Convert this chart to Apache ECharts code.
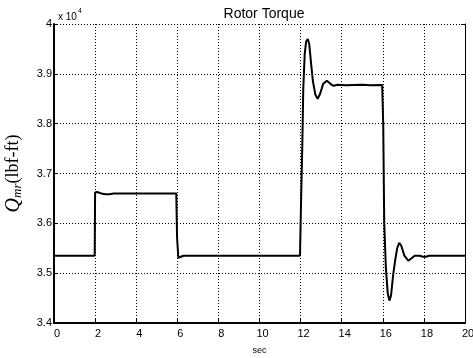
<!DOCTYPE html>
<html>
<head>
<meta charset="utf-8">
<script src="https://cdn.jsdelivr.net/npm/echarts@6/dist/echarts.min.js"></script>
<style>
html,body{margin:0;padding:0;background:#fff;}
#chart{width:473px;height:358px;}
</style>
</head>
<body>
<div id="chart"></div>
<script>
// Time (sec)
var timeSec = [0, 1.98, 2.0, 2.1, 2.3, 2.5, 2.7, 2.9, 4.0, 5.0, 5.95, 5.99, 6.05, 6.13, 6.3, 8.0, 10.0, 11.97,
  12.03, 12.08, 12.13, 12.2, 12.27, 12.35, 12.42, 12.5, 12.6, 12.72, 12.83, 12.95, 13.1, 13.28, 13.45, 13.6, 13.8,
  14.2, 14.6, 15.0, 15.4, 15.97, 16.02, 16.07, 16.15, 16.24, 16.32, 16.4, 16.5, 16.6, 16.7, 16.8, 16.9, 17.05,
  17.24, 17.4, 17.55, 17.8, 17.95, 18.1, 18.25, 19.0, 20.0];
// Rotor torque Q_mr (lbf-ft)
var torque = [35350, 35350, 36620, 36630, 36600, 36585, 36585, 36600, 36600, 36600, 36600, 35700, 35310, 35285, 35350, 35350, 35350, 35350,
  36600, 37500, 38700, 39400, 39650, 39700, 39600, 39250, 38850, 38580, 38500, 38600, 38800, 38860, 38800, 38760, 38780,
  38770, 38775, 38780, 38770, 38775, 38000, 36000, 35100, 34600, 34450, 34550, 34950, 35250, 35500, 35610, 35550, 35350,
  35250, 35300, 35350, 35350, 35330, 35330, 35350, 35350, 35350];
// Axis ticks
var xTicks = [0, 2, 4, 6, 8, 10, 12, 14, 16, 18, 20];
var yTickLabels = ['3.4', '3.5', '3.6', '3.7', '3.8', '3.9', '4'];

var points = timeSec.map(function (t, i) { return [t, torque[i]]; });

var chart = echarts.init(document.getElementById('chart'), null, {renderer: 'canvas'});
var font = 'Liberation Sans, Arial, sans-serif';
var dotted = {color: '#000', width: 1, type: [1, 2]};
chart.setOption({
  animation: false,
  backgroundColor: '#fff',
  title: {
    text: 'Rotor Torque',
    left: 259, textAlign: 'center', top: 2,
    textStyle: {fontFamily: font, fontSize: 14, fontWeight: 'normal', color: '#000'}
  },
  graphic: [{
    type: 'text', left: 58, top: 8,
    style: {
      text: '{a|x 10}{b|4}',
      rich: {
        a: {fontFamily: font, fontSize: 10, fill: '#000', padding: [4, 0, 0, 0]},
        b: {fontFamily: font, fontSize: 7, fill: '#000', verticalAlign: 'top', padding: [0, 0, 6, 1]}
      }
    }
  }],
  grid: {left: 54, right: 8, top: 24, bottom: 35, containLabel: false, outerBoundsMode: 'none'},
  xAxis: [{
    type: 'value', min: 0, max: 20, interval: 2,
    name: 'sec', nameLocation: 'middle', nameGap: 23,
    nameTextStyle: {fontFamily: font, fontSize: 9, color: '#000'},
    axisLine: {show: true, onZero: false, lineStyle: {color: '#000', width: 2}},
    axisTick: {show: true, inside: true, length: 4, lineStyle: {color: '#000'}},
    axisLabel: {fontFamily: font, fontSize: 11, color: '#000', margin: 5, padding: [0, 0, 0, 6],
      formatter: function (v) { return xTicks.indexOf(v) >= 0 ? String(v) : ''; }},
    splitLine: {show: true, lineStyle: dotted}
  }],
  yAxis: [{
    type: 'value', min: 34000, max: 40000, interval: 1000,
    name: '{q|Q}{s|mr}{n|(lbf-ft)}', nameLocation: 'middle', nameGap: 30, nameRotate: 90,
    nameTextStyle: {
      rich: {
        q: {fontFamily: 'Liberation Serif, serif', fontStyle: 'italic', fontSize: 20, color: '#000'},
        s: {fontFamily: 'Liberation Serif, serif', fontStyle: 'italic', fontSize: 13, color: '#000', verticalAlign: 'bottom', padding: [8, 0, 0, 0]},
        n: {fontFamily: 'Liberation Serif, serif', fontSize: 18, color: '#000'}
      }
    },
    axisLine: {show: true, onZero: false, lineStyle: {color: '#000', width: 2}},
    axisTick: {show: true, inside: true, length: 4, lineStyle: {color: '#000'}},
    axisLabel: {fontFamily: font, fontSize: 11, color: '#000', margin: 2,
      formatter: function (v) { return yTickLabels[Math.round((v - 34000) / 1000)]; }},
    splitLine: {show: true, lineStyle: dotted}
  }, {
    type: 'value', min: 34000, max: 40000, interval: 1000, position: 'right',
    axisLine: {show: true, onZero: false, lineStyle: {color: '#000', width: 1}},
    axisTick: {show: true, inside: true, length: 4, lineStyle: {color: '#000'}},
    axisLabel: {show: false},
    splitLine: {show: false}
  }],
  series: [{
    type: 'line', data: points, showSymbol: false, symbol: 'none',
    lineStyle: {color: '#000', width: 2}, smooth: false, z: 5
  }]
});
</script>
</body>
</html>
